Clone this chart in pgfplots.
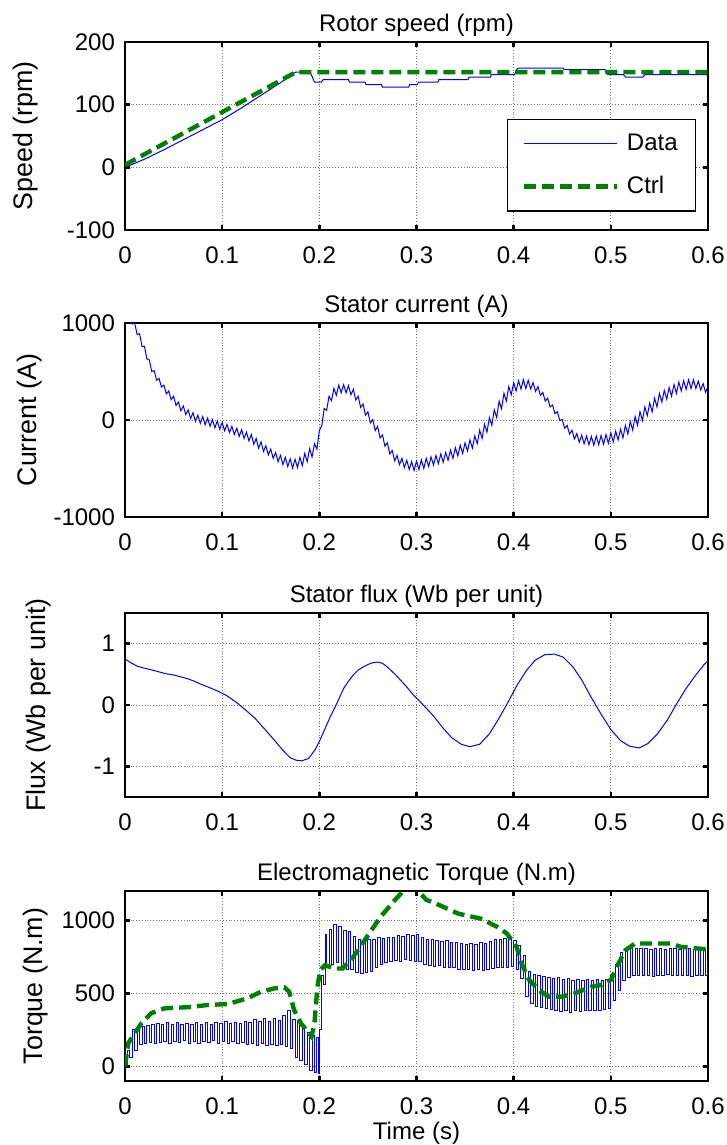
\documentclass[border=0pt]{standalone}
\usepackage{fontspec}
\setmainfont{Liberation Sans}
\usepackage{pgfplots}
\pgfplotsset{compat=1.18}

\newlength\px
\setlength\px{0.5pt}
\definecolor{mblue}{rgb}{0,0,1}
\definecolor{mgreen}{rgb}{0,0.5,0}

\pgfplotsset{
  matlab/.style={
    scale only axis, width=583\px, anchor=north west,
    xmin=0, xmax=0.6,
    xtick={0,0.1,0.2,0.3,0.4,0.5,0.6},
    xticklabels={0,0.1,0.2,0.3,0.4,0.5,0.6},
    grid=major,
    major grid style={densely dotted, black!55, line width=0.5pt},
    tick align=inside, xtick pos=both, ytick pos=both,
    major tick length=2.4pt,
    major tick style={black, line width=1.3pt},
    axis line style={black, line width=0.7pt},
    tick label style={font=\fontsize{12}{14}\selectfont},
    xticklabel style={yshift=-5pt},
    yticklabel style={xshift=-1.5pt},
    every axis title shift=-1pt,
    title style={font=\fontsize{12}{14}\selectfont},
    ylabel style={font=\fontsize{13.4}{16}\selectfont, anchor=center},
  },
  data/.style={mblue, line width=0.5pt},
  ctrl/.style={mgreen, line width=2.2pt, dash pattern=on 6pt off 3pt},
}

\begin{document}
\begin{tikzpicture}
\useasboundingbox (0,0) rectangle (727\px,-1145\px);

% --- rotor speed
\begin{axis}[matlab, at={(125\px,-42\px)}, height=188\px,
  ymin=-100, ymax=200,
  ytick={-100,0,100,200}, yticklabels={-100,0,100,200},
  title={Rotor speed (rpm)},
  ylabel={Speed (rpm)},
  ylabel style={at={(axis description cs:-0.171,0.5)}},
  legend cell align=left,
  legend style={at={(axis description cs:0.655,0.59)}, anchor=north west,
    draw=black, line width=0.7pt, fill=white, font=\fontsize{12}{14}\selectfont,
    inner xsep=7pt, inner ysep=5pt, row sep=7.6pt, nodes={inner sep=2pt},
    /tikz/every odd column/.append style={column sep=2pt}},
  legend image code/.code={\draw[#1] (0pt,0pt) -- (46.5pt,0pt);},
]
\addplot[data] coordinates {
  (0,0) (0.02,13) (0.04,28) (0.06,44) (0.08,60) (0.10,76) (0.12,95)
  (0.14,115) (0.16,135) (0.173,150) (0.176,152) (0.190,152) (0.192,147)
  (0.195,136) (0.202,136) (0.204,140) (0.23,140) (0.231,136) (0.247,136)
  (0.248,132) (0.264,132) (0.265,128) (0.292,128) (0.293,132) (0.301,132)
  (0.302,136) (0.322,136) (0.323,140) (0.353,140) (0.354,144) (0.376,144)
  (0.377,148) (0.401,148) (0.403,156) (0.405,158.5) (0.451,158.5) (0.452,156)
  (0.494,156) (0.497,148) (0.513,148) (0.515,144) (0.533,144) (0.535,148)
  (0.598,148) (0.6,146)
};
\addplot[ctrl] coordinates {
  (0,4) (0.176,152) (0.6,152)
};
\legend{Data, Ctrl}
\end{axis}

% --- stator current
\begin{axis}[matlab, at={(125\px,-323\px)}, height=194\px,
  ymin=-1000, ymax=1000,
  ytick={-1000,0,1000}, yticklabels={-1000,0,1000},
  title={Stator current (A)},
  ylabel={Current (A)},
  ylabel style={at={(axis description cs:-0.163,0.5)}},
]
\addplot[data] coordinates {
  (0.0050,1000) (0.0075,990) (0.0100,1000) (0.0125,880) (0.0150,890) (0.0175,760)
  (0.0200,760) (0.0225,630) (0.0250,620) (0.0275,500) (0.0300,510) (0.0325,410)
  (0.0350,430) (0.0375,340) (0.0400,360) (0.0425,270) (0.0450,300) (0.0475,210)
  (0.0500,245) (0.0525,150) (0.0550,185) (0.0575,95) (0.0600,145) (0.0625,55)
  (0.0650,105) (0.0675,15) (0.0700,75) (0.0725,-15) (0.0750,50) (0.0775,-35)
  (0.0800,35) (0.0825,-50) (0.0850,20) (0.0875,-65) (0.0900,5) (0.0925,-80)
  (0.0950,-10) (0.0975,-95) (0.1000,-25) (0.1025,-110) (0.1050,-45) (0.1075,-130)
  (0.1100,-65) (0.1125,-150) (0.1150,-85) (0.1175,-170) (0.1200,-100) (0.1225,-190)
  (0.1250,-125) (0.1275,-215) (0.1300,-150) (0.1325,-250) (0.1350,-190) (0.1375,-290)
  (0.1400,-225) (0.1425,-325) (0.1450,-265) (0.1475,-360) (0.1500,-300) (0.1525,-395)
  (0.1550,-335) (0.1575,-430) (0.1600,-365) (0.1625,-460) (0.1650,-385) (0.1675,-480)
  (0.1700,-400) (0.1725,-495) (0.1750,-405) (0.1775,-490) (0.1800,-385) (0.1825,-470)
  (0.1850,-345) (0.1875,-430) (0.1900,-295) (0.1925,-380) (0.1950,-245) (0.1975,-300)
  (0.2000,-110) (0.2025,-60) (0.2050,120) (0.2075,100) (0.2100,245) (0.2125,200)
  (0.2150,325) (0.2175,255) (0.2200,360) (0.2225,280) (0.2250,365) (0.2275,280)
  (0.2300,355) (0.2325,260) (0.2350,315) (0.2375,205) (0.2400,245) (0.2425,130)
  (0.2450,165) (0.2475,50) (0.2500,85) (0.2525,-30) (0.2550,5) (0.2575,-110)
  (0.2600,-65) (0.2625,-185) (0.2650,-155) (0.2675,-270) (0.2700,-235) (0.2725,-350)
  (0.2750,-315) (0.2775,-420) (0.2800,-365) (0.2825,-460) (0.2850,-395) (0.2875,-490)
  (0.2900,-415) (0.2925,-510) (0.2950,-430) (0.2975,-520) (0.3000,-425) (0.3025,-510)
  (0.3050,-410) (0.3075,-500) (0.3100,-395) (0.3125,-480) (0.3150,-380) (0.3175,-465)
  (0.3200,-365) (0.3225,-450) (0.3250,-350) (0.3275,-435) (0.3300,-335) (0.3325,-415)
  (0.3350,-310) (0.3375,-395) (0.3400,-285) (0.3425,-370) (0.3450,-260) (0.3475,-345)
  (0.3500,-235) (0.3525,-320) (0.3550,-205) (0.3575,-290) (0.3600,-165) (0.3625,-245)
  (0.3650,-105) (0.3675,-190) (0.3700,-45) (0.3725,-125) (0.3750,25) (0.3775,-55)
  (0.3800,105) (0.3825,25) (0.3850,195) (0.3875,115) (0.3900,275) (0.3925,195)
  (0.3950,345) (0.3975,260) (0.4000,385) (0.4025,300) (0.4050,405) (0.4075,320)
  (0.4100,415) (0.4125,325) (0.4150,410) (0.4175,320) (0.4200,385) (0.4225,295)
  (0.4250,345) (0.4275,255) (0.4300,285) (0.4325,195) (0.4350,225) (0.4375,135)
  (0.4400,155) (0.4425,65) (0.4450,85) (0.4475,-5) (0.4500,5) (0.4525,-85)
  (0.4550,-55) (0.4575,-145) (0.4600,-105) (0.4625,-195) (0.4650,-140) (0.4675,-230)
  (0.4700,-155) (0.4725,-245) (0.4750,-165) (0.4775,-255) (0.4800,-170) (0.4825,-260)
  (0.4850,-165) (0.4875,-255) (0.4900,-160) (0.4925,-250) (0.4950,-150) (0.4975,-240)
  (0.5000,-135) (0.5025,-225) (0.5050,-115) (0.5075,-205) (0.5100,-95) (0.5125,-185)
  (0.5150,-55) (0.5175,-145) (0.5200,-15) (0.5225,-105) (0.5250,35) (0.5275,-55)
  (0.5300,85) (0.5325,-5) (0.5350,135) (0.5375,45) (0.5400,175) (0.5425,85)
  (0.5450,225) (0.5475,135) (0.5500,275) (0.5525,185) (0.5550,305) (0.5575,215)
  (0.5600,335) (0.5625,245) (0.5650,365) (0.5675,275) (0.5700,390) (0.5725,300)
  (0.5750,405) (0.5775,315) (0.5800,415) (0.5825,325) (0.5850,415) (0.5875,325)
  (0.5900,400) (0.5925,310) (0.5950,375) (0.5975,285) (0.6000,345)
};
\end{axis}

% --- stator flux
\begin{axis}[matlab, at={(125\px,-613\px)}, height=184\px,
  ymin=-1.5, ymax=1.5,
  ytick={-1,0,1}, yticklabels={-1,0,1},
  title={Stator flux (Wb per unit)},
  ylabel={Flux (Wb per unit)},
  ylabel style={at={(axis description cs:-0.149,0.5)}},
]
\addplot[data] coordinates {
  (0,0.75) (0.007,0.68) (0.013,0.63) (0.02,0.60) (0.028,0.57) (0.035,0.54)
  (0.042,0.51) (0.05,0.49) (0.057,0.46) (0.064,0.43) (0.071,0.39) (0.078,0.34)
  (0.086,0.29) (0.095,0.23) (0.105,0.15) (0.114,0.05) (0.124,-0.08) (0.134,-0.22)
  (0.143,-0.38) (0.153,-0.56) (0.162,-0.73) (0.170,-0.86) (0.176,-0.90) (0.182,-0.91)
  (0.189,-0.87) (0.196,-0.72) (0.201,-0.56) (0.206,-0.38) (0.211,-0.20) (0.216,-0.04)
  (0.221,0.13) (0.225,0.27) (0.230,0.39) (0.235,0.49) (0.240,0.57) (0.245,0.62)
  (0.250,0.66) (0.255,0.69) (0.260,0.70) (0.265,0.68) (0.270,0.62) (0.278,0.50)
  (0.288,0.33) (0.297,0.16) (0.307,0.00) (0.317,-0.17) (0.327,-0.37) (0.336,-0.53)
  (0.346,-0.64) (0.355,-0.68) (0.365,-0.64) (0.375,-0.47) (0.384,-0.24) (0.394,0.04)
  (0.403,0.31) (0.413,0.56) (0.422,0.73) (0.432,0.82) (0.442,0.83) (0.451,0.78)
  (0.461,0.62) (0.470,0.41) (0.480,0.12) (0.490,-0.15) (0.500,-0.40) (0.510,-0.58)
  (0.519,-0.67) (0.529,-0.70) (0.538,-0.63) (0.548,-0.47) (0.558,-0.25) (0.567,0.00)
  (0.577,0.26) (0.587,0.48) (0.596,0.66) (0.600,0.72)
};
\end{axis}

% --- electromagnetic torque
\begin{axis}[matlab, at={(125\px,-891\px)}, height=190\px,
  ymin=-100, ymax=1200,
  ytick={0,500,1000}, yticklabels={0,500,1000},
  title={Electromagnetic Torque (N.m)},
  ylabel={Torque (N.m)},
  ylabel style={at={(axis description cs:-0.153,0.5)}},
  xlabel={Time (s)},
  xlabel style={font=\fontsize{12}{14}\selectfont, at={(axis description cs:0.5,0)}, anchor=center, yshift=-52\px},
]
\addplot[data, const plot] coordinates {
  (0.0000,0) (0.0025,110) (0.0050,60) (0.0075,250) (0.0100,110) (0.0125,265)
  (0.0150,150) (0.0175,275) (0.0200,160) (0.0225,280) (0.0250,165) (0.0275,290)
  (0.0300,160) (0.0325,295) (0.0350,165) (0.0375,288) (0.0400,168) (0.0425,300)
  (0.0450,158) (0.0475,290) (0.0500,172) (0.0525,297) (0.0550,162) (0.0575,285)
  (0.0600,175) (0.0625,295) (0.0650,160) (0.0675,288) (0.0700,168) (0.0725,300)
  (0.0750,158) (0.0775,290) (0.0800,172) (0.0825,297) (0.0850,162) (0.0875,285)
  (0.0900,175) (0.0925,300) (0.0950,160) (0.0975,295) (0.1000,168) (0.1025,305)
  (0.1050,158) (0.1075,292) (0.1100,170) (0.1125,303) (0.1150,160) (0.1175,296)
  (0.1200,165) (0.1225,310) (0.1250,150) (0.1275,300) (0.1300,160) (0.1325,320)
  (0.1350,145) (0.1375,305) (0.1400,155) (0.1425,325) (0.1450,140) (0.1475,310)
  (0.1500,150) (0.1525,330) (0.1550,140) (0.1575,315) (0.1600,150) (0.1625,345)
  (0.1650,135) (0.1675,385) (0.1700,120) (0.1725,320) (0.1750,60) (0.1775,310)
  (0.1800,40) (0.1825,260) (0.1850,10) (0.1875,230) (0.1900,-30) (0.1925,210)
  (0.1950,-45) (0.1975,200) (0.1995,-50) (0.2005,250) (0.2025,620) (0.2040,560)
  (0.2060,900) (0.2075,690) (0.2100,940) (0.2125,700) (0.2150,970) (0.2175,710)
  (0.2200,960) (0.2225,680) (0.2250,930) (0.2275,660) (0.2300,920) (0.2325,660)
  (0.2350,890) (0.2375,640) (0.2400,870) (0.2425,635) (0.2450,860) (0.2475,640)
  (0.2500,865) (0.2525,650) (0.2550,870) (0.2575,680) (0.2600,880) (0.2625,700)
  (0.2650,875) (0.2675,710) (0.2700,885) (0.2725,720) (0.2750,880) (0.2775,725)
  (0.2800,895) (0.2825,720) (0.2850,890) (0.2875,730) (0.2900,900) (0.2925,725)
  (0.2950,895) (0.2975,720) (0.3000,905) (0.3025,715) (0.3050,880) (0.3075,700)
  (0.3100,870) (0.3125,690) (0.3150,865) (0.3175,685) (0.3200,860) (0.3225,690)
  (0.3250,855) (0.3275,680) (0.3300,860) (0.3325,675) (0.3350,850) (0.3375,680)
  (0.3400,845) (0.3425,665) (0.3450,840) (0.3475,660) (0.3500,835) (0.3525,665)
  (0.3550,840) (0.3575,655) (0.3600,835) (0.3625,660) (0.3650,845) (0.3675,655)
  (0.3700,840) (0.3725,665) (0.3750,855) (0.3775,670) (0.3800,865) (0.3825,680)
  (0.3850,870) (0.3875,675) (0.3900,875) (0.3925,680) (0.3950,870) (0.3975,685)
  (0.4000,860) (0.4025,660) (0.4050,830) (0.4075,600) (0.4100,760) (0.4125,480)
  (0.4150,650) (0.4175,430) (0.4200,630) (0.4225,410) (0.4250,620) (0.4275,400)
  (0.4300,615) (0.4325,395) (0.4350,610) (0.4375,390) (0.4400,600) (0.4425,380)
  (0.4450,605) (0.4475,375) (0.4500,595) (0.4525,380) (0.4550,600) (0.4575,370)
  (0.4600,590) (0.4625,380) (0.4650,595) (0.4675,375) (0.4700,590) (0.4725,385)
  (0.4750,595) (0.4775,380) (0.4800,590) (0.4825,385) (0.4850,595) (0.4875,380)
  (0.4900,590) (0.4925,390) (0.4950,595) (0.4975,395) (0.5000,620) (0.5025,450)
  (0.5050,700) (0.5075,520) (0.5100,780) (0.5125,590) (0.5150,800) (0.5175,610)
  (0.5200,805) (0.5225,620) (0.5250,810) (0.5275,625) (0.5300,805) (0.5325,620)
  (0.5350,810) (0.5375,625) (0.5400,800) (0.5425,615) (0.5450,810) (0.5475,625)
  (0.5500,805) (0.5525,620) (0.5550,800) (0.5575,630) (0.5600,810) (0.5625,620)
  (0.5650,805) (0.5675,625) (0.5700,800) (0.5725,620) (0.5750,810) (0.5775,625)
  (0.5800,805) (0.5825,615) (0.5850,800) (0.5875,620) (0.5900,805) (0.5925,625)
  (0.5950,800) (0.5975,620) (0.6000,720)
};
\addplot[ctrl] coordinates {
  (0,0) (0.0034,159) (0.010,227) (0.017,295) (0.027,364) (0.041,398) (0.065,405)
  (0.085,420) (0.106,427) (0.126,466) (0.140,511) (0.154,534) (0.164,541)
  (0.169,511) (0.174,386) (0.181,295) (0.188,239) (0.192,205) (0.195,295)
  (0.198,545) (0.201,659) (0.206,693) (0.215,670) (0.224,670) (0.235,750)
  (0.249,886) (0.263,1023) (0.276,1125) (0.287,1205) (0.293,1216) (0.300,1215)
  (0.310,1140) (0.320,1114) (0.343,1045) (0.366,1011) (0.383,955) (0.393,909)
  (0.403,818) (0.408,705) (0.416,591) (0.426,523) (0.436,477) (0.450,477)
  (0.463,500) (0.480,545) (0.490,557) (0.500,591) (0.508,705) (0.515,795)
  (0.525,841) (0.562,841) (0.572,818) (0.600,800)
};
\end{axis}
\end{tikzpicture}
\end{document}
